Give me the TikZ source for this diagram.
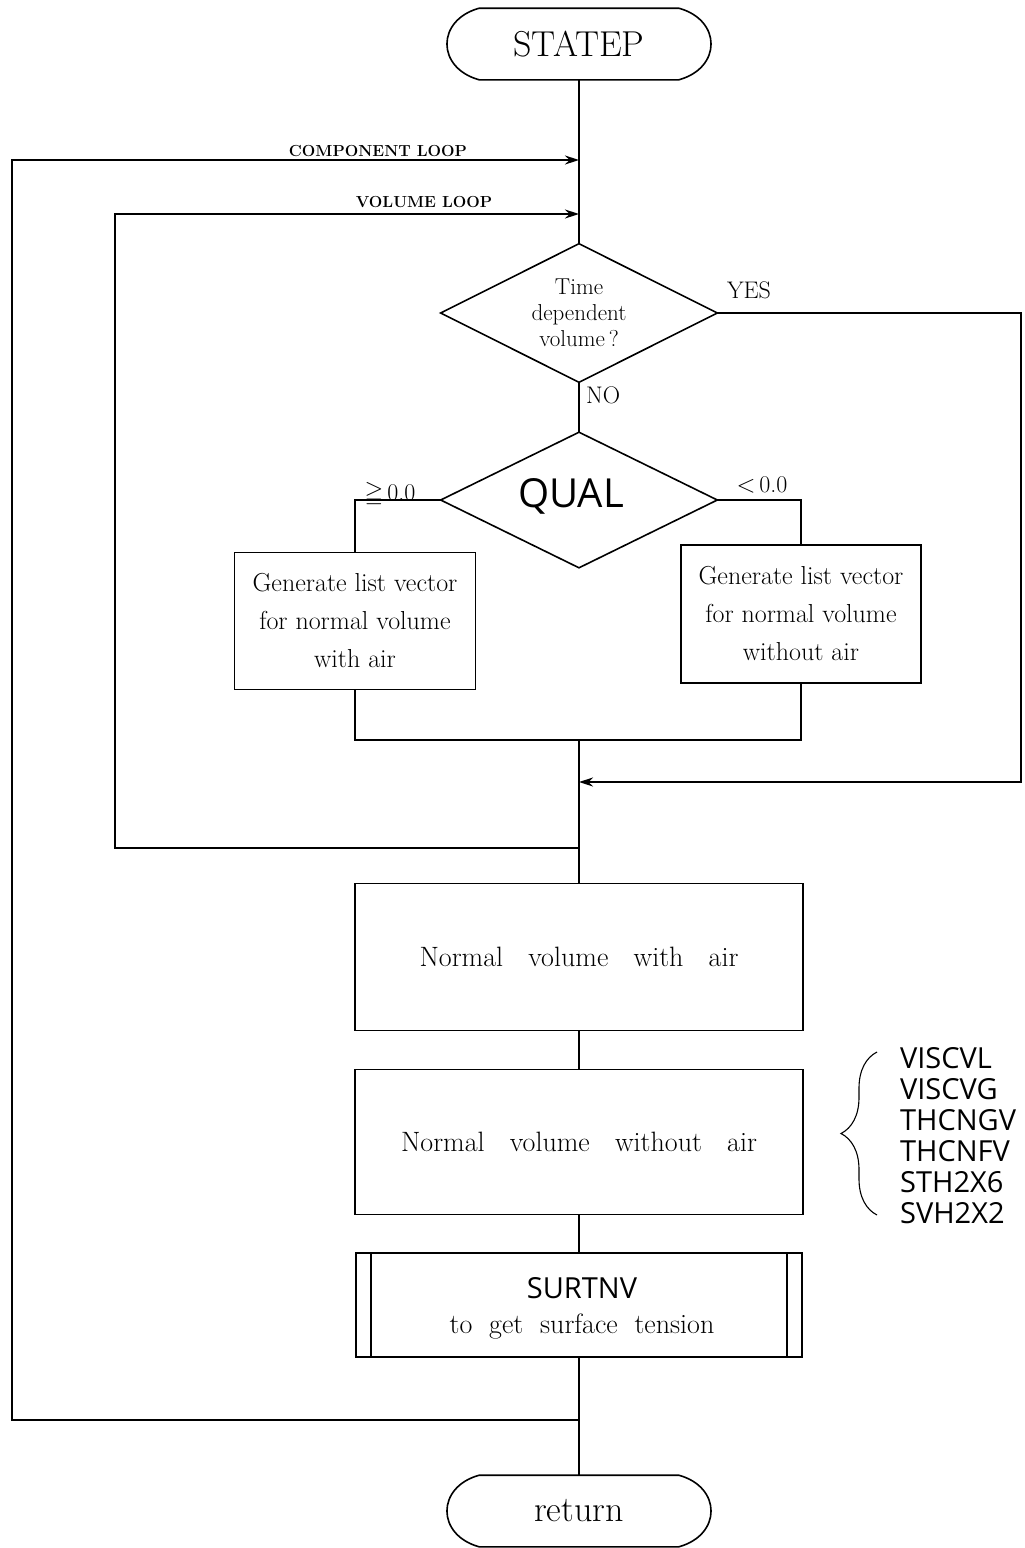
\documentclass[tikz,border=0pt]{standalone}
\usepackage{amssymb}
\usepackage{fontspec}
\newfontfamily\labelsans{Open Sans}
\usetikzlibrary{arrows.meta,calc,decorations.pathreplacing}

% outline of a terminal (flat top/bottom, bulging sides) around a ghost node
\newcommand\termoutline[1]{%
  \draw ($(#1.north west)+(32,0)$) -- ($(#1.north east)+(-32,0)$)
    .. controls ($(#1.east)+(11,-24)$) and ($(#1.east)+(11,24)$) .. ($(#1.south east)+(-32,0)$)
    -- ($(#1.south west)+(32,0)$)
    .. controls ($(#1.west)+(-11,24)$) and ($(#1.west)+(-11,-24)$) .. cycle;}
% outline of a decision diamond around a ghost node
\newcommand\diamondoutline[1]{%
  \draw (#1.north) -- (#1.east) -- (#1.south) -- (#1.west) -- cycle;}

\begin{document}
\begin{tikzpicture}[x=1pt,y=-1pt,
  line width=1.6pt,
  ghost/.style={rectangle, inner sep=0pt, align=center},
  procbox/.style={draw, rectangle, inner sep=0pt, align=center},
  arr/.style={-{Stealth[length=14pt,width=9pt]}},
  loopfont/.style={font=\fontsize{16}{19}\selectfont\bfseries},
  branchfont/.style={font=\fontsize{24}{28}\selectfont},
  boxfont/.style={font=\fontsize{26}{38}\selectfont},
  bigfont/.style={font=\fontsize{28}{32}\selectfont},
  termfont/.style={font=\fontsize{36}{40}\selectfont},
]
\fill[white] (0,0) rectangle (1025,1548);
\useasboundingbox (0,0) rectangle (1025,1548);

% terminals
\node[ghost, termfont, minimum width=262pt, minimum height=70pt] (start) at (579,44) {STATEP};
\termoutline{start}
\node[ghost, termfont, minimum width=262pt, minimum height=70pt] (ret) at (579,1511) {return};
\termoutline{ret}

% decisions
\node[ghost, font=\fontsize{23}{26}\selectfont, minimum width=275pt, minimum height=137pt] (d1) at (579,313)
  {Time\\dependent\\volume\,?};
\diamondoutline{d1}
\node[ghost, minimum width=275pt, minimum height=134pt] (d2) at (579,500) {};
\node[font=\labelsans\fontsize{40}{42}\selectfont] (qual) at (571,496) {QUAL};
\diamondoutline{d2}

% process boxes
\node[procbox, boxfont, minimum width=241pt, minimum height=137pt] (b1) at (355,621)
  {Generate list vector\\for normal volume\\with air};
\node[procbox, boxfont, minimum width=240pt, minimum height=138pt] (b2) at (801,614)
  {Generate list vector\\for normal volume\\without air};
\node[procbox, bigfont, minimum width=448pt, minimum height=147pt] (b3) at (579,957)
  {Normal\hspace{0.9em}volume\hspace{0.9em}with\hspace{0.9em}air};
\node[procbox, bigfont, minimum width=448pt, minimum height=145pt] (b4) at (579,1142)
  {Normal\hspace{0.9em}volume\hspace{0.9em}without\hspace{0.9em}air};
\node[procbox, minimum width=446pt, minimum height=104pt] (b5) at (579,1305) {};
\draw ($(b5.north west)+(16,0)$) -- ($(b5.south west)+(16,0)$);
\draw ($(b5.north east)+(-16,0)$) -- ($(b5.south east)+(-16,0)$);
\node[font=\labelsans\fontsize{29}{32}\selectfont] (b5top) at (582,1288) {SURTNV};
\node[bigfont] (b5bot) at (582,1327) {to\hspace{0.6em}get\hspace{0.6em}surface\hspace{0.6em}tension};

% main flow
\coordinate (cl-in) at (579,160);
\coordinate (vl-in) at (579,214);
\coordinate (m) at (579,740);
\coordinate (yes-in) at (579,782);
\coordinate (vl-out) at (579,848);
\coordinate (cl-out) at (579,1420);

\draw (start.south) -- (d1.north);
\draw (d1.south) -- (d2.north);
\draw (d2.west) -| (b1.north);
\draw (d2.east) -| (b2.north);
\draw (b1.south) |- (m) -| (b2.south);
\draw (m) -- (b3.north);
\draw (b3.south) -- (b4.north);
\draw (b4.south) -- (b5.north);
\draw (b5.south) -- (ret.north);

% loops and bypass
\coordinate (cl-a) at (12,1420);
\coordinate (cl-b) at (12,160);
\coordinate (vl-a) at (115,848);
\coordinate (vl-b) at (115,214);
\coordinate (yes-a) at (1021,313);
\coordinate (yes-b) at (1021,782);
\draw[arr] (cl-out) -- (cl-a) -- (cl-b) -- (cl-in);
\draw[arr] (vl-out) -- (vl-a) -- (vl-b) -- (vl-in);
\draw[arr] (d1.east) -- (yes-a) -- (yes-b) -- (yes-in);

% labels
\node[loopfont, anchor=base] (cl-lbl) at (378,156) {COMPONENT LOOP};
\node[loopfont, anchor=base] (vl-lbl) at (424,207) {VOLUME LOOP};
\node[branchfont, anchor=base] (yes-lbl) at (749,298) {YES};
\node[branchfont, anchor=base west] (no-lbl) at (582,403) {NO};
\node[branchfont, anchor=base] (ge-lbl) at (390,500) {$\geqq$\,0.0};
\node[branchfont, anchor=base] (lt-lbl) at (762,492) {$<$\,0.0};

% routines called from the normal-volume step
\draw[line width=1.1pt, decorate, decoration={brace, amplitude=36pt, aspect=0.5}]
  (877,1215) -- (877,1052);
\node[font=\labelsans\fontsize{29}{31}\selectfont, align=left, anchor=west] (routines) at (896,1136)
  {VISCVL\\VISCVG\\THCNGV\\THCNFV\\STH2X6\\SVH2X2};
\end{tikzpicture}
\end{document}
